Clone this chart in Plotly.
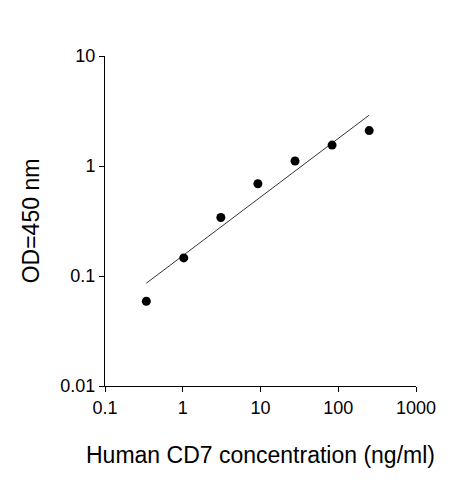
import numpy as np
import plotly.graph_objects as go

conc = [0.34, 1.03, 3.09, 9.26, 27.8, 83.3, 250]
od = [0.059, 0.146, 0.34, 0.69, 1.11, 1.55, 2.1]
fit_x = [0.34, 250]
fit_y = [0.086, 2.9]

fig = go.Figure()
fig.add_trace(go.Scatter(x=fit_x, y=fit_y, mode="lines",
                         line=dict(color="black", width=0.8)))
fig.add_trace(go.Scatter(x=conc, y=od, mode="markers",
                         marker=dict(color="black", size=9)))

axis = dict(type="log", showgrid=False, zeroline=False, showline=True,
            linecolor="black", linewidth=1, ticks="outside", ticklen=5,
            tickcolor="black", tickfont=dict(size=18, color="black"),
            automargin=False)
fig.update_xaxes(**axis, range=[-1, 3], tickvals=[0.1, 1, 10, 100, 1000],
                 ticktext=["0.1", "1", "10", "100", "1000"],
                 title=dict(text="Human CD7 concentration (ng/ml)",
                            font=dict(size=23, color="black"), standoff=30))
fig.update_yaxes(**axis, range=[-2, 1], tickvals=[0.01, 0.1, 1, 10],
                 ticktext=["0.01", "0.1", "1", "10"],
                 title=dict(text="OD=450 nm", font=dict(size=23, color="black"),
                            standoff=14))
fig.update_layout(width=463, height=480, showlegend=False,
                  plot_bgcolor="white", paper_bgcolor="white",
                  font=dict(family="Liberation Sans, Arial"),
                  margin=dict(l=97, r=55, t=48, b=102))
fig.write_html("out.html")
